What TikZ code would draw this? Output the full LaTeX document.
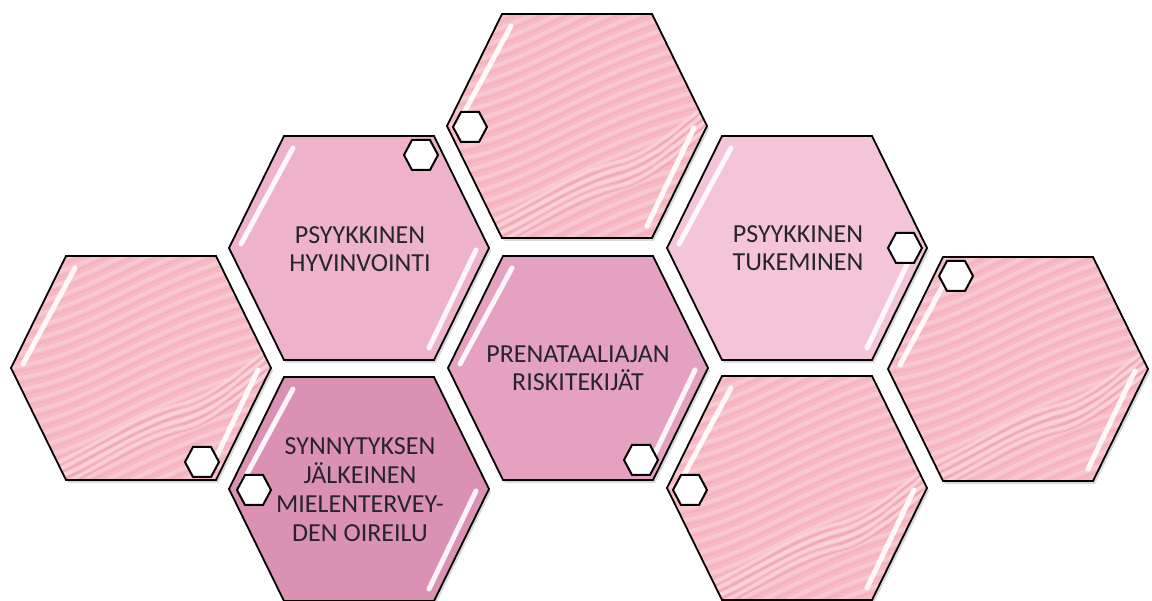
\documentclass[tikz,border=0pt]{standalone}
\usepackage{fontspec}
\setmainfont{Carlito}
\definecolor{texbase}{HTML}{F7BAC4}
\definecolor{wavelight}{HTML}{FCD6DC}
\definecolor{wavedark}{HTML}{EE9DAB}
\definecolor{hyvcol}{HTML}{EEB2CB}
\definecolor{prencol}{HTML}{E5A1C0}
\definecolor{synncol}{HTML}{DA91B3}
\definecolor{tukcol}{HTML}{F4C5D8}
\definecolor{txtcol}{HTML}{262626}
\tikzset{
  lbl/.style={align=center, text=txtcol, inner sep=0pt, font=\fontsize{26}{28}\selectfont},
  hexline/.style={draw=black, line width=1.8pt, line join=miter},
  strip/.style={draw=white, line width=5pt, opacity=0.9, line cap=round},
  smallhex/.style={draw=black, fill=white, line width=2pt, line join=miter},
}
\newcommand\BigHex[6]{%
\begin{scope}[shift={(#1,#2)}]
  \fill[black, opacity=0.15] (-128,3) -- (-73,-109) -- (77,-109) -- (132,3) -- (77,115) -- (-73,115) -- cycle;
  \fill[#3] (-130,0) -- (-75,-112) -- (75,-112) -- (130,0) -- (75,112) -- (-75,112) -- cycle;
  \ifnum#6=1
  \begin{scope}
    \clip (-130,0) -- (-75,-112) -- (75,-112) -- (130,0) -- (75,112) -- (-75,112) -- cycle;
    \foreach \k in {-11,...,18}{%
      \pgfmathsetmacro\yy{12*\k}
      \draw[line width=4pt, draw=wavelight, opacity=0.55] (-140,\yy) .. controls (-50,\yy-6) and (0,\yy-66) .. (140,\yy-100);
      \draw[line width=0.8pt, draw=wavedark, opacity=0.45] (-140,\yy+5) .. controls (-50,\yy-1) and (0,\yy-61) .. (140,\yy-95);
    }
    \foreach \d in {0,8,16,24}{%
      \draw[line width=3pt, draw=wavelight, opacity=0.8] (-140,114+\d) .. controls (-60,94+\d) and (-20,51+\d) .. (40,36+\d) .. controls (80,26+\d) and (110,-9+\d) .. (140,-29+\d);
      \draw[line width=1.6pt, draw=wavedark, opacity=0.6] (-140,118+\d) .. controls (-60,98+\d) and (-20,55+\d) .. (40,40+\d) .. controls (80,30+\d) and (110,-5+\d) .. (140,-25+\d);
    }
  \end{scope}
  \fi
  \draw[hexline] (-130,0) -- (-75,-112) -- (75,-112) -- (130,0) -- (75,112) -- (-75,112) -- cycle;
  \draw[strip] (-118,-4) -- (-66,-100);
  \draw[strip] (117,2) -- (70,100);
  \draw[smallhex] (#4-17,#5) -- (#4-9,#5-15) -- (#4+9,#5-15) -- (#4+17,#5) -- (#4+9,#5+15) -- (#4-9,#5+15) -- cycle;
\end{scope}}
\begin{document}
\begin{tikzpicture}[x=1pt, y=-1pt]
\useasboundingbox (0,0) rectangle (1152,601);
\BigHex{577}{126}{texbase}{-107}{1}{1}
\BigHex{359}{248}{hyvcol}{62}{-93}{0}
\BigHex{141}{368}{texbase}{61}{94}{1}
\BigHex{359}{489}{synncol}{-105}{1}{0}
\BigHex{578}{368}{prencol}{63}{92}{0}
\BigHex{797}{248}{tukcol}{108}{0}{0}
\BigHex{797}{488}{texbase}{-107}{2}{1}
\BigHex{1018}{369}{texbase}{-62}{-93}{1}
\node[lbl] (hyv) at (360,249) {PSYYKKINEN\\HYVINVOINTI};
\node[lbl] (pren) at (578,368) {PRENATAALIAJAN\\RISKITEKIJÄT};
\node[lbl] (tuk) at (798,248) {PSYYKKINEN\\TUKEMINEN};
\node[lbl, font=\fontsize{26}{29}\selectfont] (synn) at (360,490) {SYNNYTYKSEN\\JÄLKEINEN\\MIELENTERVEY-\\DEN OIREILU};
\end{tikzpicture}
\end{document}
